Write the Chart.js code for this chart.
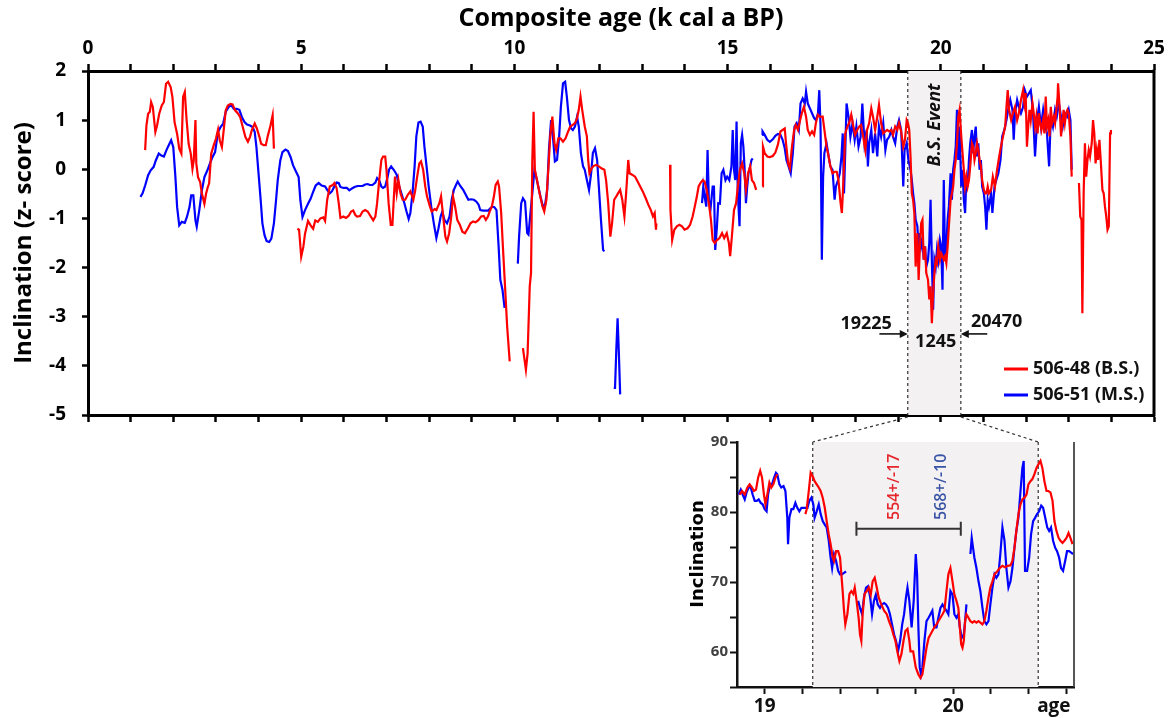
<!DOCTYPE html>
<html>
<head>
<meta charset="utf-8">
<title>Inclination z-score vs composite age</title>
<script src="https://cdn.jsdelivr.net/npm/chart.js@4.4.1/dist/chart.umd.min.js"></script>
<style>
  html, body { margin: 0; padding: 0; background: #fff; }
  #wrap { position: relative; width: 1171px; height: 718px; }
  #wrap canvas { position: absolute; left: 0; top: 0; }
</style>
</head>
<body>
<div id="wrap">
  <canvas id="mainChart" width="1171" height="718"></canvas>
  <canvas id="insetChart" width="1171" height="718"></canvas>
</div>
<script>
var FONT = "'Open Sans', Lato, sans-serif";

// series names + colours
var seriesNames = ["506-48 (B.S.)", "506-51 (M.S.)"];
var seriesColors = ["#ff0000", "#0000ff"];

// main panel: [age (k cal a BP), inclination z-score], null = gap
var red4848 = [
  [1.34,0.39],[1.37,0.89],[1.41,1.13],[1.45,1.17],[1.48,1.37],[1.52,1.27],[1.58,0.76],[1.62,0.89],[1.67,1.13],[1.73,1.30],
  [1.78,1.37],[1.83,1.74],[1.88,1.78],[1.94,1.67],[1.98,1.47],[2.03,0.96],[2.09,0.72],[2.14,0.42],[2.19,0.32],[2.23,1.47],
  [2.27,1.57],[2.31,1.03],[2.36,0.52],[2.41,0.32],[2.45,0.01],[2.48,0.18],[2.52,1.0],[2.54,0.12],[2.58,-0.16],[2.63,-0.26],
  [2.67,-0.49],[2.73,-0.7],[2.77,-0.49],[2.81,-0.36],[2.84,-0.29],[2.89,0.32],[2.95,0.49],[3.0,0.62],[3.05,0.81],[3.09,0.59],
  [3.14,0.45],[3.19,0.86],[3.23,1.2],[3.28,1.3],[3.34,1.33],[3.39,1.32],[3.45,1.2],[3.52,1.13],[3.57,1.06],[3.63,0.86],
  [3.69,0.66],[3.75,0.56],[3.8,0.66],[3.84,0.79],[3.91,0.93],[3.96,0.83],[4.02,0.66],[4.06,0.52],[4.12,0.49],[4.17,0.49],
  [4.22,0.69],[4.28,0.89],[4.33,1.1],[4.36,0.42],
  null,
  [4.91,-1.21],[4.95,-1.23],[5.0,-1.78],[5.05,-1.58],[5.09,-1.31],[5.16,-1.05],[5.22,-1.14],[5.28,-1.21],[5.33,-1.04],[5.39,-1.07],
  [5.45,-1.0],[5.52,-0.98],[5.56,-1.05],[5.61,-0.62],[5.67,-0.35],[5.74,-0.32],[5.78,-0.28],[5.83,-0.38],[5.88,-0.69],[5.92,-0.99],
  [5.99,-0.96],[6.05,-0.99],[6.11,-0.95],[6.17,-0.86],[6.22,-0.84],[6.27,-0.93],[6.31,-0.96],[6.38,-0.95],[6.44,-0.86],[6.5,-0.83],
  [6.56,-0.86],[6.63,-0.96],[6.69,-1.04],[6.74,-0.96],[6.78,-0.69],[6.83,-0.22],[6.88,0.19],[6.92,0.26],[6.97,0.26],[7.0,-0.01],
  [7.05,-0.69],[7.1,-1.13],[7.14,-1.13],[7.17,-0.62],[7.2,-0.15],[7.24,-0.49],[7.28,-0.22],[7.33,-0.49],[7.38,-0.62],[7.44,-0.62],
  [7.5,-0.52],[7.56,-0.45],[7.63,-0.62],[7.67,-0.45],[7.72,-0.15],[7.77,0.12],[7.81,0.16],[7.86,-0.01],[7.91,-0.35],[7.95,-0.55],
  [8.02,-0.76],[8.06,-0.86],[8.13,-0.81],[8.17,-0.83],[8.24,-0.69],[8.28,-0.55],[8.33,-0.96],[8.38,-1.37],[8.42,-1.47],[8.47,-1.3],
  [8.52,-0.96],[8.56,-0.55],[8.61,-0.76],[8.66,-1.03],[8.72,-1.13],[8.78,-1.27],[8.84,-1.3],[8.91,-1.2],[8.97,-1.1],[9.03,-1.06],
  [9.09,-1.08],[9.16,-1.03],[9.22,-0.96],[9.28,-0.95],[9.33,-1.03],[9.38,-0.96],[9.42,-0.86],[9.47,-0.76],[9.52,-0.55],[9.56,-0.32],
  [9.61,-0.25],[9.64,-0.35],[9.69,-0.89],[9.73,-1.57],[9.78,-2.38],[9.83,-3.2],[9.89,-3.91],
  null,
  [10.2,-3.64],[10.27,-4.08],[10.31,-3.74],[10.36,-2.38],[10.39,-2.11],[10.42,0.19],[10.45,1.17],[10.48,-0.01],[10.53,-0.22],[10.59,-0.49],
  [10.66,-0.76],[10.7,-0.86],[10.75,-0.62],[10.8,0.06],[10.84,0.67],[10.89,1.07],[10.94,0.53],[10.98,0.39],[11.03,0.63],[11.08,0.63],
  [11.14,0.56],[11.2,0.63],[11.26,0.77],[11.31,0.87],[11.36,0.9],[11.42,0.94],[11.47,1.04],[11.51,1.21],[11.55,1.48],[11.59,1.21],
  [11.65,0.87],[11.7,0.67],[11.73,0.19],[11.76,-0.08],[11.81,0.02],[11.86,0.07],[11.92,0.09],[11.98,0.06],[12.04,0.02],[12.11,-0.01],
  [12.15,-0.22],[12.2,-0.69],[12.25,-1.37],[12.29,-1.1],[12.34,-0.62],[12.39,-0.55],[12.43,-0.49],[12.48,-0.42],[12.53,-0.62],[12.58,-0.96],
  [12.62,-0.49],[12.67,0.19],[12.7,-0.08],[12.76,-0.11],[12.83,-0.15],[12.89,-0.25],[12.95,-0.35],[13.01,-0.45],[13.08,-0.59],[13.14,-0.72],
  [13.2,-0.83],[13.25,-0.96],[13.29,-0.89],[13.32,-1.23],[13.33,-1.1],
  null,
  [13.65,0.09],[13.66,-0.83],[13.7,-1.44],[13.75,-1.23],[13.81,-1.16],[13.87,-1.13],[13.93,-1.16],[13.99,-1.23],[14.06,-1.2],[14.12,-1.13],
  [14.18,-0.96],[14.23,-0.76],[14.28,-0.55],[14.32,-0.35],[14.37,-0.27],[14.42,-0.22],[14.46,-0.25],[14.51,-0.42],[14.56,-0.69],[14.61,-1.03],
  [14.65,-1.44],[14.7,-1.5],[14.75,-1.44],[14.81,-1.4],[14.87,-1.3],[14.92,-1.4],[14.98,-1.3],[15.03,-1.5],[15.06,-1.77],[15.1,-1.37],
  [15.15,-0.83],[15.2,-0.69],[15.24,-0.35],[15.29,-0.01],[15.34,0.12],[15.39,-0.08],[15.43,-0.42],[15.48,-0.08],[15.53,0.06],[15.57,-0.22],
  [15.62,-0.28],[15.67,-0.42],
  null,
  [15.82,-0.35],[15.83,0.46],[15.87,0.33],[15.93,0.26],[15.99,0.25],[16.06,0.27],[16.12,0.34],[16.18,0.5],[16.24,0.77],[16.29,0.8],
  [16.34,0.83],[16.37,0.53],[16.42,0.12],[16.46,0.02],[16.51,0.46],[16.56,0.8],[16.6,0.9],[16.65,0.8],[16.7,1.0],[16.74,1.14],
  [16.79,1.27],[16.84,1.07],[16.88,0.8],[16.93,0.7],[16.98,0.77],[17.03,0.7],[17.07,0.94],[17.12,1.11],[17.16,1.07],[17.23,1.07],
  [17.27,0.8],[17.32,0.46],[17.37,0.26],[17.41,0.06],[17.46,-0.08],[17.51,-0.05],[17.56,-0.05],[17.6,-0.22],[17.65,-0.69],[17.68,-0.89],
  [17.71,-0.35],[17.76,0.73],[17.81,0.87],[17.85,0.94],[17.9,1.11],[17.95,0.87],[17.99,0.7],[18.04,0.8],[18.09,0.87],[18.13,0.9],
  [18.18,0.66],[18.23,0.39],[18.27,0.8],[18.32,0.94],[18.37,1.24],[18.41,1.07],[18.46,0.8],[18.51,1.07],[18.55,1.31],[18.6,0.94],
  [18.65,0.73],[18.7,0.77],[18.74,0.8],[18.79,0.77],[18.84,0.8],[18.88,0.7],[18.93,0.87],[18.98,0.8],[19.02,0.94],[19.07,0.77],
  [19.12,0.46],[19.16,0.6],[19.2,1.0],[19.23,0.94],[19.26,0.8],[19.29,0.26],[19.32,-0.49],[19.35,-0.62],[19.38,-0.89],[19.41,-1.98],
  [19.45,-1.3],[19.48,-2.25],[19.51,-1.57],[19.54,-1.1],[19.57,-1.03],[19.6,-1.84],[19.63,-1.57],[19.66,-2.11],[19.7,-2.25],[19.73,-2.65],
  [19.76,-2.38],[19.79,-3.13],[19.82,-2.52],[19.85,-2.11],[19.88,-1.84],[19.91,-1.91],[19.94,-1.57],[19.98,-1.84],[20.01,-1.71],[20.04,-1.77],
  [20.07,-1.84],[20.1,-1.77],[20.13,-1.91],[20.16,-1.57],[20.19,-1.16],[20.23,-0.62],[20.26,-0.49],[20.29,-0.35],[20.32,-0.01],[20.35,0.19],
  [20.38,0.53],[20.41,1.07],[20.44,1.21],[20.48,0.67],[20.51,0.33],[20.54,-0.01],[20.57,-0.35],[20.6,-0.15],[20.63,-0.35],[20.66,-0.22],
  [20.69,0.06],[20.73,0.53],[20.76,0.46],[20.79,0.19],[20.82,0.33],[20.85,0.53],[20.88,0.39],[20.91,0.19],[20.94,0.06],[20.97,-0.22],
  [21.01,-0.42],[21.04,-0.49],[21.07,-0.49],[21.1,-0.35],[21.13,-0.49],[21.18,-0.42],[21.22,-0.15],[21.27,-0.35],[21.32,-0.01],[21.37,0.26],
  [21.41,0.46],[21.46,0.67],[21.51,0.87],[21.54,1.27],[21.57,1.61],[21.6,1.21],[21.65,1.0],[21.69,1.14],[21.74,1.27],[21.79,1.0],
  [21.83,1.14],[21.88,1.41],[21.93,1.61],[21.96,1.34],[21.99,1.55],[22.02,0.46],[22.05,0.87],[22.08,1.21],[22.11,1.0],[22.15,1.34],
  [22.18,1.14],[22.21,0.87],[22.24,1.07],[22.27,0.73],[22.3,1.14],[22.33,0.94],[22.36,0.8],[22.4,1.0],[22.43,0.73],[22.46,1.48],
  [22.49,0.87],[22.52,1.0],[22.55,0.67],[22.58,1.27],[22.61,0.94],[22.65,1.07],[22.68,0.94],[22.71,1.21],[22.74,1.48],[22.75,1.75],
  [22.79,1.21],[22.82,0.67],[22.85,0.94],[22.88,1.21],[22.91,0.94],[22.94,1.14],[22.97,1.21],[23.0,1.14],[23.04,0.67],[23.07,-0.15],
  null,
  [23.24,-0.28],[23.27,-0.96],[23.3,-1.03],[23.32,-2.93],[23.35,-0.49],[23.38,0.53],[23.41,-0.15],[23.44,0.19],[23.47,0.39],[23.5,0.26],
  [23.54,0.53],[23.57,1.0],[23.6,0.73],[23.63,0.12],[23.66,0.39],[23.69,0.19],[23.72,0.6],[23.75,0.19],[23.79,-0.42],[23.82,-0.49],
  [23.85,-0.76],[23.88,-0.96],[23.91,-1.23],[23.94,-1.16],[23.97,0.73],[23.99,0.8]
];

var blue4851 = [
  [1.23,-0.56],[1.28,-0.49],[1.34,-0.33],[1.41,-0.12],[1.47,-0.02],[1.54,0.05],[1.59,0.18],[1.66,0.32],[1.72,0.28],[1.78,0.26],
  [1.84,0.39],[1.91,0.52],[1.95,0.59],[2.0,0.45],[2.05,-0.16],[2.09,-0.77],[2.14,-1.14],[2.2,-1.07],[2.27,-1.09],[2.32,-0.97],
  [2.38,-0.77],[2.42,-0.53],[2.47,-0.53],[2.52,-1.04],[2.55,-1.17],[2.61,-0.83],[2.67,-0.43],[2.73,-0.16],[2.8,-0.02],[2.86,0.12],
  [2.92,0.25],[2.98,0.35],[3.05,0.76],[3.11,0.86],[3.17,0.93],[3.23,1.17],[3.3,1.27],[3.36,1.3],[3.42,1.23],[3.49,1.23],
  [3.55,1.21],[3.61,1.06],[3.67,0.96],[3.73,0.91],[3.8,0.89],[3.86,0.86],[3.91,0.76],[3.95,0.45],[4.0,-0.09],[4.05,-0.63],
  [4.09,-1.1],[4.14,-1.34],[4.19,-1.46],[4.25,-1.48],[4.3,-1.41],[4.36,-1.1],[4.41,-0.63],[4.45,-0.22],[4.51,0.18],[4.56,0.35],
  [4.63,0.4],[4.69,0.37],[4.75,0.25],[4.81,0.08],[4.88,-0.05],[4.94,-0.16],[4.98,-0.63],[5.03,-0.97],[5.09,-0.83],[5.16,-0.7],
  [5.22,-0.6],[5.28,-0.46],[5.34,-0.33],[5.41,-0.28],[5.48,-0.33],[5.56,-0.35],[5.61,-0.42],[5.67,-0.49],[5.72,-0.45],[5.77,-0.36],
  [5.83,-0.27],[5.88,-0.28],[5.92,-0.36],[5.99,-0.38],[6.07,-0.38],[6.13,-0.43],[6.19,-0.39],[6.25,-0.36],[6.32,-0.34],[6.38,-0.34],
  [6.44,-0.34],[6.5,-0.31],[6.56,-0.3],[6.61,-0.32],[6.67,-0.32],[6.74,-0.27],[6.78,-0.18],[6.83,-0.23],[6.88,-0.35],[6.92,-0.38],
  [6.97,-0.35],[7.02,-0.18],[7.06,-0.01],[7.11,0.06],[7.17,-0.01],[7.24,-0.11],[7.3,-0.35],[7.36,-0.52],[7.42,-0.69],[7.47,-0.86],
  [7.52,-1.01],[7.56,-0.89],[7.61,-0.49],[7.66,0.06],[7.7,0.67],[7.75,0.95],[7.8,0.97],[7.85,0.87],[7.89,0.46],[7.94,0.06],
  [7.99,-0.35],[8.05,-0.76],[8.11,-1.1],[8.17,-1.4],[8.22,-1.2],[8.27,-0.96],[8.31,-0.86],[8.36,-1.03],[8.42,-1.1],[8.48,-0.96],
  [8.53,-0.62],[8.58,-0.42],[8.63,-0.32],[8.67,-0.25],[8.73,-0.34],[8.8,-0.42],[8.86,-0.52],[8.92,-0.62],[8.98,-0.61],[9.05,-0.62],
  [9.11,-0.66],[9.16,-0.72],[9.2,-0.83],[9.27,-0.84],[9.33,-0.84],[9.39,-0.84],[9.44,-0.79],[9.48,-0.76],[9.53,-0.77],[9.58,-0.83],
  [9.63,-1.57],[9.67,-2.25],[9.72,-2.45],[9.77,-2.82],
  null,
  [10.08,-1.92],[10.11,-1.37],[10.16,-0.69],[10.2,-0.59],[10.25,-0.66],[10.3,-1.3],[10.33,-1.33],[10.37,-0.96],[10.42,-0.49],[10.47,-0.01],
  [10.51,-0.15],[10.56,-0.35],[10.61,-0.55],[10.67,-0.76],[10.72,-0.72],[10.77,-0.42],[10.81,0.39],[10.86,1.0],[10.91,0.6],[10.95,0.16],
  [11.0,0.19],[11.05,0.67],[11.09,1.27],[11.14,1.75],[11.19,1.78],[11.23,1.48],[11.28,1.0],[11.33,0.83],[11.37,0.8],[11.42,0.87],
  [11.47,1.07],[11.51,0.87],[11.56,0.33],[11.61,0.06],[11.65,-0.01],[11.7,-0.22],[11.75,-0.42],[11.8,-0.08],[11.84,0.33],[11.89,0.43],
  [11.94,0.19],[11.98,-0.35],[12.03,-1.03],[12.08,-1.64],[12.11,-1.67],
  null,
  [12.33,-4.45],[12.36,-4.45],[12.39,-3.67],[12.42,-3.03],[12.45,-3.74],[12.48,-4.58],
  null,
  [14.4,-0.69],[14.43,-0.35],[14.46,-0.55],[14.5,-0.76],[14.53,0.39],[14.56,-0.62],[14.6,-0.8],[14.65,-0.35],[14.68,-0.35],[14.71,-1.64],
  [14.75,-1.16],[14.78,-0.69],[14.82,-0.7],[14.86,-0.08],[14.9,-0.01],[14.95,-0.22],[14.99,-0.15],[15.04,-0.22],[15.09,0.06],[15.12,0.8],
  [15.15,-0.01],[15.18,-0.22],[15.21,0.97],[15.24,-0.49],[15.28,-1.16],[15.31,0.53],[15.34,0.7],[15.37,0.46],[15.4,-0.01],[15.43,-0.69],
  [15.46,-0.35],[15.49,-0.08],[15.53,0.06],[15.56,0.19],[15.59,0.22],
  null,
  [15.81,0.7],[15.82,0.77],[15.87,0.7],[15.93,0.6],[15.99,0.56],[16.06,0.61],[16.12,0.68],[16.18,0.72],[16.24,0.7],[16.29,0.6],
  [16.34,0.43],[16.38,0.19],[16.43,0.06],[16.48,-0.08],[16.53,0.33],[16.57,0.87],[16.62,0.94],[16.67,0.8],[16.71,1.34],[16.76,1.44],
  [16.81,1.34],[16.84,1.58],[16.88,1.34],[16.93,1.24],[16.98,1.14],[17.03,1.04],[17.07,1.0],[17.12,1.14],[17.15,1.61],[17.18,0.87],
  [17.21,-1.84],[17.24,-0.15],[17.27,0.33],[17.32,0.53],[17.37,0.26],[17.41,0.06],[17.46,-0.01],[17.51,-0.62],[17.54,-0.35],[17.59,-0.22],
  [17.63,-0.08],[17.67,0.26],[17.7,0.73],[17.73,-0.49],[17.76,0.39],[17.79,1.34],[17.84,1.04],[17.88,0.66],[17.93,0.94],[17.98,0.6],
  [18.02,0.87],[18.07,0.46],[18.12,0.66],[18.16,1.34],[18.21,0.53],[18.26,0.8],[18.29,0.06],[18.32,0.53],[18.37,0.8],[18.41,0.33],
  [18.46,0.73],[18.51,0.26],[18.55,0.87],[18.6,0.66],[18.65,0.94],[18.7,0.39],[18.74,0.6],[18.79,0.66],[18.84,0.8],[18.88,0.66],
  [18.93,0.53],[18.98,0.87],[19.02,1.0],[19.07,0.8],[19.12,-0.35],[19.15,0.39],[19.2,0.53],[19.24,0.19],[19.29,-0.01],[19.32,-0.22],
  [19.35,-0.49],[19.38,-0.69],[19.41,-1.03],[19.45,-1.16],[19.48,-1.64],[19.51,-1.3],[19.54,-1.57],[19.57,-1.44],[19.6,-1.84],[19.63,-1.57],
  [19.66,-1.98],[19.7,-1.84],[19.73,-1.5],[19.76,-0.62],[19.79,-1.84],[19.82,-2.86],[19.85,-1.84],[19.88,-1.98],[19.91,-1.64],[19.94,-1.84],
  [19.98,-1.44],[20.01,-1.57],[20.04,-2.45],[20.07,-0.22],[20.1,-1.84],[20.13,-1.57],[20.16,-1.03],[20.19,-0.76],[20.23,-0.08],[20.26,-0.62],
  [20.29,-0.01],[20.32,0.19],[20.35,0.46],[20.38,1.21],[20.41,0.19],[20.44,0.87],[20.48,-0.35],[20.51,-0.01],[20.54,-0.62],[20.57,-0.89],
  [20.6,-0.15],[20.63,-0.35],[20.66,0.19],[20.69,0.53],[20.73,0.8],[20.76,0.33],[20.79,0.67],[20.82,0.87],[20.85,0.26],[20.88,0.53],
  [20.91,-0.01],[20.94,0.19],[20.97,-0.35],[21.01,-0.49],[21.04,-0.76],[21.07,-1.23],[21.1,-0.62],[21.13,-0.76],[21.18,-0.49],[21.21,-0.89],
  [21.26,-0.35],[21.3,-0.22],[21.35,-0.08],[21.4,0.19],[21.44,0.67],[21.49,0.8],[21.54,1.0],[21.58,1.21],[21.63,1.41],[21.68,1.21],
  [21.71,0.6],[21.74,1.14],[21.79,1.41],[21.83,1.27],[21.88,1.14],[21.93,1.27],[21.97,1.61],[22.02,1.48],[22.07,1.55],[22.11,1.61],
  [22.16,1.21],[22.21,0.26],[22.26,1.0],[22.3,1.27],[22.35,0.87],[22.4,1.21],[22.44,0.94],[22.49,0.73],[22.54,0.06],[22.58,1.07],
  [22.63,0.87],[22.68,1.21],[22.72,1.07],[22.77,1.34],[22.82,1.07],[22.86,0.87],[22.91,1.14],[22.96,1.07],[23.0,1.21],[23.04,1.0],
  [23.07,-0.01]
];

// inset: [age (k cal a BP), inclination (deg)]
var insetRed = [
  [18.867,82.5],[18.88,83.0],[18.894,82.5],[18.908,83.5],[18.92,83.95],[18.933,83.5],[18.943,83.0],[18.954,83.2],[18.965,84.9],[18.976,85.9],
  [18.986,84.9],[18.996,82.5],[19.004,81.1],[19.014,82.5],[19.025,84.2],[19.035,83.5],[19.046,83.95],[19.057,84.9],[19.067,85.4],
  null,
  [19.216,79.7],[19.223,80.4],[19.234,83.0],[19.244,85.6],[19.255,85.1],[19.265,84.4],[19.276,83.95],[19.287,83.5],[19.297,83.0],[19.308,82.05],
  [19.319,80.6],[19.329,78.7],[19.34,76.8],[19.35,75.4],[19.361,73.5],[19.368,73.0],[19.379,74.4],[19.39,74.4],[19.4,73.5],[19.407,71.1],
  [19.414,68.7],[19.421,65.9],[19.428,63.95],[19.439,65.4],[19.45,68.3],[19.46,68.7],[19.47,68.3],[19.478,69.2],[19.488,67.3],[19.499,64.8],
  [19.506,62.5],[19.513,61.6],[19.52,65.4],[19.53,68.3],[19.542,68.7],[19.552,69.2],[19.563,68.2],[19.573,70.1],[19.584,70.6],[19.595,69.2],
  [19.605,67.8],[19.619,66.8],[19.634,65.9],[19.648,65.4],[19.66,64.4],[19.673,63.5],[19.683,62.5],[19.694,61.6],[19.704,60.1],[19.715,58.7],
  [19.726,59.7],[19.737,61.6],[19.747,63.0],[19.758,63.3],[19.768,61.6],[19.774,60.1],[19.788,60.1],[19.802,57.8],[19.816,56.8],[19.827,56.3],
  [19.837,56.8],[19.848,58.7],[19.859,60.6],[19.87,62.0],[19.88,62.5],[19.89,63.0],[19.9,63.5],[19.912,63.95],[19.922,64.4],[19.933,64.9],
  [19.944,65.4],[19.954,65.9],[19.965,68.7],[19.975,71.1],[19.986,72.0],[19.997,70.1],[20.007,68.2],[20.018,67.3],[20.028,66.3],[20.036,63.5],
  [20.043,61.1],[20.05,60.6],[20.057,61.6],[20.064,64.4],[20.071,65.4],[20.082,64.9],[20.092,64.4],[20.103,64.2],[20.113,64.4],[20.124,64.2],
  [20.135,64.4],[20.145,64.2],[20.156,63.95],[20.166,64.4],[20.177,65.9],[20.188,67.8],[20.198,69.2],[20.209,70.1],[20.22,71.1],[20.234,71.5],
  [20.248,72.0],[20.262,72.3],[20.276,72.1],[20.29,72.3],[20.305,72.4],[20.315,73.0],[20.326,74.9],[20.336,77.3],[20.347,79.7],[20.358,81.1],
  [20.368,81.8],[20.379,82.05],[20.39,82.5],[20.4,83.95],[20.411,84.4],[20.421,84.7],[20.432,85.4],[20.443,86.3],[20.453,86.8],[20.464,87.3],
  [20.474,86.3],[20.485,84.4],[20.496,83.0],[20.506,83.0],[20.517,82.8],[20.528,81.6],[20.538,78.7],[20.549,77.3],[20.56,76.3],[20.57,75.9],
  [20.581,75.6],[20.591,75.9],[20.602,76.3],[20.613,77.0],[20.623,76.3],[20.634,75.4]
];

var insetBlue = [
  [18.862,82.5],[18.873,83.2],[18.883,82.5],[18.894,81.8],[18.904,82.8],[18.915,83.5],[18.926,83.5],[18.936,82.5],[18.947,81.6],[18.958,81.6],
  [18.968,81.8],[18.979,81.3],[18.989,81.1],[19.0,80.4],[19.01,80.1],[19.018,82.5],[19.028,83.95],[19.039,83.95],[19.05,84.9],[19.06,85.6],
  [19.067,85.4],[19.078,83.95],[19.088,83.5],[19.1,83.7],[19.11,83.0],[19.12,79.2],[19.124,75.4],[19.131,79.2],[19.142,80.4],[19.152,80.4],
  [19.163,81.3],[19.173,80.6],[19.184,80.1],[19.195,80.6],[19.205,80.6],[19.216,80.6],[19.227,80.6],[19.237,81.6],[19.248,82.05],[19.258,81.1],
  [19.265,79.2],[19.276,80.1],[19.287,81.1],[19.297,79.7],[19.308,78.7],[19.319,78.2],[19.329,77.8],[19.34,75.9],[19.35,73.5],[19.358,72.0],
  [19.368,73.95],[19.379,73.0],[19.39,71.6],[19.4,71.1],[19.41,71.1],[19.421,71.3],[19.432,71.5],
  null,
  [19.496,67.3],[19.506,66.3],[19.517,65.4],[19.527,67.8],[19.538,69.2],[19.549,69.4],[19.56,67.8],[19.57,65.4],[19.58,67.3],[19.59,68.2],
  [19.6,66.8],[19.612,66.3],[19.623,66.8],[19.634,67.0],[19.644,66.8],[19.655,66.3],[19.665,65.4],[19.676,63.95],[19.687,62.5],[19.697,61.6],
  [19.708,60.1],[19.719,61.6],[19.73,63.95],[19.74,65.4],[19.75,67.8],[19.758,69.2],[19.768,67.3],[19.78,63.5],[19.791,67.3],[19.802,74.0],
  [19.809,71.1],[19.816,63.5],[19.823,57.8],[19.83,56.8],[19.837,57.8],[19.848,61.6],[19.859,64.4],[19.87,64.9],[19.88,65.4],[19.89,65.9],
  [19.9,63.5],[19.912,63.5],[19.922,64.9],[19.933,66.3],[19.944,66.8],[19.954,66.3],[19.965,65.9],[19.975,65.4],[19.986,68.7],[19.997,68.2],
  [20.007,65.4],[20.018,64.9],[20.028,65.4],[20.036,63.5],[20.046,62.0],[20.057,62.5],[20.064,64.4],[20.071,66.8],
  null,
  [20.092,74.0],[20.099,76.3],[20.106,74.9],[20.113,73.5],[20.124,72.0],[20.135,70.1],[20.145,68.7],[20.156,66.3],[20.166,64.4],[20.177,63.95],
  [20.188,64.4],[20.198,66.8],[20.209,69.2],[20.22,71.1],[20.23,70.6],[20.241,71.1],[20.251,74.0],[20.262,77.8],[20.273,75.9],[20.283,72.0],
  [20.294,69.2],[20.305,70.1],[20.315,72.0],[20.326,74.9],[20.336,77.3],[20.347,79.2],[20.358,83.0],[20.368,86.3],[20.375,87.3],[20.382,71.6],
  [20.393,71.6],[20.404,73.5],[20.414,76.8],[20.425,78.7],[20.436,79.2],[20.446,79.7],[20.457,80.1],[20.468,80.9],[20.478,80.6],[20.489,79.2],
  [20.5,77.8],[20.51,77.3],[20.52,77.8],[20.531,75.9],[20.542,74.9],[20.552,74.4],[20.563,73.5],[20.573,72.0],[20.584,71.6],[20.595,73.0],
  [20.605,74.4],[20.616,74.4],[20.627,74.2],[20.637,74.0]
];

// axes
var mainAgeRange = [0, 25];
var mainZRange = [-5, 2];
var insetAgeRange = [18.853, 20.642];
var insetIncRange = [55, 90];
var insetAgeTicks = [19, 19.2, 19.4, 19.6, 19.8, 20, 20.2, 20.4, 20.6];

// B.S. event window (as drawn in each panel) and annotations
var eventWindow = [19.225, 20.47];
var insetWindow = [19.255, 20.452];
var eventTitle = "B.S. Event";
var eventStartLabel = "19225";
var eventEndLabel = "20470";
var eventSpanLabel = "1245";
var errorBarAge = [19.487, 20.041];
var errorBarInc = 77.6;
var errorLabels = ["554+/-17", "568+/-10"];
var errorLabelColors = ["#e5262c", "#3a55a6"];

function toPoints(pairs) {
    var last = 0;
    return pairs.map(function (p) {
        if (!p) return { x: last, y: null };
        last = p[0];
        return { x: p[0], y: p[1] };
    });
}

function dashedV(ctx, x, y0, y1) {
    ctx.beginPath();
    ctx.moveTo(x, y0);
    ctx.lineTo(x, y1);
    ctx.stroke();
}

function arrow(ctx, xFrom, xTo, y) {
    var dir = xTo > xFrom ? 1 : -1;
    ctx.beginPath();
    ctx.moveTo(xFrom, y);
    ctx.lineTo(xTo - dir * 5, y);
    ctx.stroke();
    ctx.beginPath();
    ctx.moveTo(xTo, y);
    ctx.lineTo(xTo - dir * 8, y - 4);
    ctx.lineTo(xTo - dir * 8, y + 4);
    ctx.closePath();
    ctx.fill();
}

var mainDecor = {
    id: "mainDecor",
    beforeDatasetsDraw: function (chart) {
        var ctx = chart.ctx, a = chart.chartArea, xs = chart.scales.x;
        var x0 = xs.getPixelForValue(eventWindow[0]);
        var x1 = xs.getPixelForValue(eventWindow[1]);
        ctx.save();
        ctx.fillStyle = "#f3f1f2";
        ctx.fillRect(x0, a.top, x1 - x0, a.bottom - a.top);
        ctx.strokeStyle = "#333";
        ctx.lineWidth = 1.2;
        ctx.setLineDash([3, 3]);
        dashedV(ctx, x0, a.top, a.bottom);
        dashedV(ctx, x1, a.top, a.bottom);
        ctx.restore();
    },
    afterDatasetsDraw: function (chart) {
        var ctx = chart.ctx, a = chart.chartArea;
        var xs = chart.scales.x, ys = chart.scales.y;
        var x0 = xs.getPixelForValue(eventWindow[0]);
        var x1 = xs.getPixelForValue(eventWindow[1]);
        ctx.save();
        // right frame
        ctx.strokeStyle = "#000";
        ctx.lineWidth = 3;
        ctx.beginPath();
        ctx.moveTo(a.right, a.top - 1.5);
        ctx.lineTo(a.right, a.bottom + 1.5);
        ctx.stroke();

        ctx.fillStyle = "#111";
        // event title, vertical
        ctx.save();
        ctx.translate(xs.getPixelForValue(19.87), ys.getPixelForValue(0.9));
        ctx.rotate(-Math.PI / 2);
        ctx.font = "italic bold 18px " + FONT;
        ctx.textAlign = "center";
        ctx.textBaseline = "middle";
        ctx.fillText(eventTitle, 0, 0);
        ctx.restore();

        ctx.font = "bold 18px " + FONT;
        ctx.textAlign = "center";
        ctx.textBaseline = "middle";
        ctx.fillText(eventStartLabel, xs.getPixelForValue(18.25), ys.getPixelForValue(-3.14));
        ctx.fillText(eventEndLabel, xs.getPixelForValue(21.31), ys.getPixelForValue(-3.1));
        ctx.fillText(eventSpanLabel, xs.getPixelForValue(19.88), ys.getPixelForValue(-3.52));

        ctx.strokeStyle = "#111";
        ctx.lineWidth = 1.6;
        var ay = ys.getPixelForValue(-3.35);
        arrow(ctx, xs.getPixelForValue(18.56), x0, ay);
        arrow(ctx, xs.getPixelForValue(21.09), x1, ay);

        // legend
        ctx.textAlign = "left";
        chart.data.datasets.forEach(function (ds, i) {
            var ly = a.bottom - 46 + i * 26;
            ctx.strokeStyle = ds.borderColor;
            ctx.lineWidth = 3;
            ctx.beginPath();
            ctx.moveTo(a.right - 150, ly);
            ctx.lineTo(a.right - 126, ly);
            ctx.stroke();
            ctx.fillStyle = "#111";
            ctx.fillText(ds.label, a.right - 121, ly);
        });
        ctx.restore();
    }
};

var tickFont = { family: FONT, size: 19, weight: "bold" };
var titleFont = { family: FONT, size: 25, weight: "bold" };
var axisGrid = { drawOnChartArea: false, drawTicks: true, tickLength: 7, tickWidth: 2.5, tickColor: "#000" };
var axisBorder = { display: true, width: 3, color: "#000" };

var mainChart = new Chart(document.getElementById("mainChart"), {
    type: "line",
    data: {
        datasets: [
            { label: seriesNames[0], data: toPoints(red4848), borderColor: seriesColors[0], backgroundColor: seriesColors[0] },
            { label: seriesNames[1], data: toPoints(blue4851), borderColor: seriesColors[1], backgroundColor: seriesColors[1] }
        ]
    },
    options: {
        responsive: false,
        animation: false,
        spanGaps: false,
        layout: { padding: { right: 17 } },
        elements: { line: { borderWidth: 2.2, tension: 0 }, point: { radius: 0 } },
        plugins: { legend: { display: false }, tooltip: { enabled: false } },
        scales: {
            x: {
                type: "linear", position: "top",
                min: mainAgeRange[0], max: mainAgeRange[1],
                ticks: {
                    stepSize: 1, autoSkip: false, maxRotation: 0, padding: 4,
                    font: tickFont, color: "#000",
                    callback: function (v) { return v % 5 === 0 ? v : ""; }
                },
                grid: axisGrid, border: axisBorder,
                title: { display: true, text: "Composite age (k cal a BP)", font: titleFont, color: "#000", padding: { top: 4, bottom: 0 } },
                afterFit: function (s) { s.height = 71; }
            },
            x2: {
                type: "linear", position: "bottom",
                min: mainAgeRange[0], max: mainAgeRange[1],
                ticks: { stepSize: 1, autoSkip: false, maxRotation: 0, callback: function () { return ""; } },
                grid: axisGrid, border: axisBorder,
                afterFit: function (s) { s.height = 303; }
            },
            y: {
                min: mainZRange[0], max: mainZRange[1],
                ticks: { stepSize: 1, padding: 16, font: tickFont, color: "#000" },
                grid: Object.assign({}, axisGrid, { tickLength: 6 }), border: axisBorder,
                title: { display: true, text: "Inclination (z- score)", font: { family: FONT, size: 24, weight: "bold" }, color: "#000", padding: { top: 10, bottom: 0 } },
                afterFit: function (s) { s.width = 88; }
            }
        }
    },
    plugins: [mainDecor]
});

var insetDecor = {
    id: "insetDecor",
    beforeDatasetsDraw: function (chart) {
        var ctx = chart.ctx, a = chart.chartArea, xs = chart.scales.x;
        var x0 = xs.getPixelForValue(insetWindow[0]);
        var x1 = xs.getPixelForValue(insetWindow[1]);
        var mx = mainChart.scales.x, ma = mainChart.chartArea;
        ctx.save();
        ctx.fillStyle = "#f3f1f2";
        ctx.fillRect(x0, a.top, x1 - x0, a.bottom - a.top);
        ctx.strokeStyle = "#333";
        ctx.lineWidth = 1.2;
        ctx.setLineDash([3, 3]);
        dashedV(ctx, x0, a.top, a.bottom);
        dashedV(ctx, x1, a.top, a.bottom);
        // zoom connectors from the main event window
        ctx.beginPath();
        ctx.moveTo(mx.getPixelForValue(eventWindow[0]), ma.bottom + 2);
        ctx.lineTo(x0, a.top);
        ctx.moveTo(mx.getPixelForValue(eventWindow[1]), ma.bottom + 2);
        ctx.lineTo(x1, a.top);
        ctx.stroke();
        ctx.restore();
    },
    afterDatasetsDraw: function (chart) {
        var ctx = chart.ctx, a = chart.chartArea;
        var xs = chart.scales.x, ys = chart.scales.y;
        ctx.save();
        // right frame
        ctx.strokeStyle = "#444";
        ctx.lineWidth = 1.8;
        ctx.beginPath();
        ctx.moveTo(a.right, a.top);
        ctx.lineTo(a.right, a.bottom);
        ctx.stroke();

        // error bar
        var ey = ys.getPixelForValue(errorBarInc);
        var ex0 = xs.getPixelForValue(errorBarAge[0]);
        var ex1 = xs.getPixelForValue(errorBarAge[1]);
        ctx.strokeStyle = "#333";
        ctx.lineWidth = 2;
        ctx.beginPath();
        ctx.moveTo(ex0, ey); ctx.lineTo(ex1, ey);
        ctx.moveTo(ex0, ey - 7); ctx.lineTo(ex0, ey + 7);
        ctx.moveTo(ex1, ey - 7); ctx.lineTo(ex1, ey + 7);
        ctx.stroke();

        // rotated error labels
        var labelAges = [19.69, 19.94];
        ctx.font = "600 16px " + FONT;
        ctx.textAlign = "center";
        ctx.textBaseline = "middle";
        errorLabels.forEach(function (t, i) {
            ctx.save();
            ctx.translate(xs.getPixelForValue(labelAges[i]), ys.getPixelForValue(83.6));
            ctx.rotate(-Math.PI / 2);
            ctx.fillStyle = errorLabelColors[i];
            ctx.fillText(t, 0, 0);
            ctx.restore();
        });

        // inset axis title, set a little above the axis middle as in the figure
        ctx.save();
        ctx.translate(a.left - 39, ys.getPixelForValue(74));
        ctx.rotate(-Math.PI / 2);
        ctx.fillStyle = "#000";
        ctx.font = "bold 18px 'DejaVu Sans', sans-serif";
        ctx.fillText("Inclination", 0, 0);
        ctx.restore();

        // axis word at the right end of the age axis
        var o = xs.options;
        ctx.fillStyle = "#111";
        ctx.font = "bold 19px " + FONT;
        ctx.fillText("age", xs.getPixelForValue(20.535), xs.top + o.grid.tickLength + o.ticks.padding + 19 * 0.6);
        ctx.restore();
    }
};

new Chart(document.getElementById("insetChart"), {
    type: "line",
    data: {
        datasets: [
            { label: seriesNames[0], data: toPoints(insetRed), borderColor: seriesColors[0] },
            { label: seriesNames[1], data: toPoints(insetBlue), borderColor: seriesColors[1] }
        ]
    },
    options: {
        responsive: false,
        animation: false,
        spanGaps: false,
        layout: { padding: { left: 687, right: 97, top: 442, bottom: 0 } },
        elements: { line: { borderWidth: 2.2, tension: 0 }, point: { radius: 0 } },
        plugins: { legend: { display: false }, tooltip: { enabled: false } },
        scales: {
            x: {
                type: "linear", position: "bottom",
                min: insetAgeRange[0], max: insetAgeRange[1],
                afterBuildTicks: function (s) { s.ticks = insetAgeTicks.map(function (v) { return { value: v }; }); },
                ticks: {
                    autoSkip: false, maxRotation: 0, padding: 1,
                    font: { family: FONT, size: 19, weight: "bold" }, color: "#111",
                    callback: function (v) { return Number.isInteger(v) ? v : ""; }
                },
                grid: { drawOnChartArea: false, drawTicks: true, tickLength: 7, tickWidth: 2, tickColor: "#111" },
                border: { display: true, width: 2.5, color: "#111" },
                afterFit: function (s) { s.height = 31; }
            },
            y: {
                min: insetIncRange[0], max: insetIncRange[1],
                ticks: {
                    stepSize: 5, padding: 2,
                    font: { family: FONT, size: 15, weight: "bold" }, color: "#404040",
                    callback: function (v) { return v % 10 === 0 ? v : ""; }
                },
                grid: { drawOnChartArea: false, drawTicks: true, tickLength: 7, tickWidth: 2, tickColor: "#111" },
                border: { display: true, width: 2.5, color: "#111" },
                afterFit: function (s) { s.width = 50; }
            }
        }
    },
    plugins: [insetDecor]
});
</script>
</body>
</html>
